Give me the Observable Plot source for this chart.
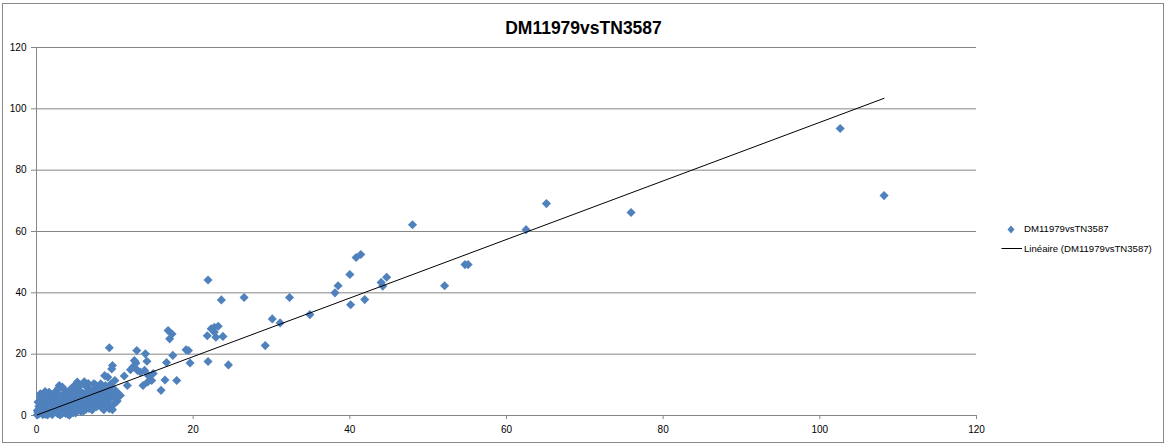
<!DOCTYPE html>
<html>
<head>
<meta charset="utf-8">
<script src="https://cdn.jsdelivr.net/npm/d3@7"></script>
<script src="https://cdn.jsdelivr.net/npm/@observablehq/plot@0.6"></script>
<style>
  html, body { margin: 0; padding: 0; background: #fff; }
  #wrap { position: relative; width: 1167px; height: 447px; overflow: hidden; font-family: "Liberation Sans", Arial, sans-serif; }
  #frame { position: absolute; left: 2px; top: 3px; width: 1160px; height: 438px; border: 1px solid #898989; pointer-events: none; }
  #title { position: absolute; left: 0; top: 17px; width: 1167px; text-align: center; font-weight: bold; font-size: 17.5px; line-height: 22px; color: #000; }
  .leg { position: absolute; left: 1024px; font-size: 9.6px; line-height: 12px; color: #000; white-space: nowrap; }
  #chart { position: absolute; left: 0; top: 0; }
</style>
</head>
<body>
<div id="wrap">
  <div id="chart"></div>
  <div id="title"></div>
  <div id="legend"></div>
  <div id="frame"></div>
</div>
<script>
const chartTitle = "DM11979vsTN3587";
const seriesName = "DM11979vsTN3587";
const trendName = "Linéaire (DM11979vsTN3587)";
const xTicks = [0, 20, 40, 60, 80, 100, 120];
const yTicks = [0, 20, 40, 60, 80, 100, 120];
const trendSlope = 0.955;
const trendIntercept = 0.1;

// Scatter points [x, y]
const outlierPoints = [
  [102.6,93.6],[108.2,71.7],[75.9,66.2],[65.1,69.1],[62.5,60.6],[48.0,62.2],
  [55.1,49.2],[54.7,49.2],[52.1,42.3],[44.7,45.1],[44.0,43.4],[44.2,42.2],
  [41.9,37.8],[41.4,52.5],[40.8,51.5],[40.0,46.0],[40.1,36.1],[38.5,42.3],
  [38.1,40.0],[34.9,32.9],[31.1,30.2],[30.1,31.5],[29.2,22.8],[32.3,38.5],
  [26.5,38.5],[23.6,37.7],[21.9,44.2]
];
const midPoints = [
  [21.8,26.0],[22.3,28.3],[22.7,28.8],[23.2,29.1],[22.9,25.5],[23.8,25.8],[22.7,27.2],
  [21.9,17.6],[24.5,16.5],[16.8,27.7],[17.3,26.6],[17.0,25.0],
  [9.3,22.1],[12.8,21.2],[13.9,20.1],[14.1,17.7],[17.4,19.6],[16.6,17.3],
  [19.1,21.4],[19.4,21.2],[19.6,17.1],
  [9.7,16.3],[9.6,15.2],[12.5,17.9],[12.7,17.1],[12.3,15.8],[12.0,14.9],[12.9,14.7],
  [13.3,14.1],[13.8,14.7],[14.9,13.7],[14.2,10.9],[13.6,9.8],[14.3,13.0],[11.2,12.9],
  [10.0,11.4],[9.1,12.5],[8.7,13.0],[9.5,10.3],[16.4,11.6],[17.9,11.4],[15.9,8.2],
  [11.6,9.8],[10.2,6.2],[9.1,6.0],[14.7,11.4],[10.7,6.5]
];
const clusterPoints = [
  [0.1,0.2],[0.2,1.1],[0.3,0.5],[0.4,2.3],[0.5,3.6],[0.2,4.4],[0.6,5.2],[0.7,1.8],[0.8,0.3],
  [0.5,7.1],[0.5,6.1],[0.3,2.9],[0.9,3.1],[1.0,4.7],[0.6,0.9],[0.1,1.6],[0.4,3.8],[0.8,2.4],
  [1.1,0.4],[1.2,1.5],[1.3,2.7],[1.4,3.9],[1.5,5.6],[1.6,7.6],[1.7,0.8],[1.8,2.1],[1.9,4.3],
  [1.2,6.4],[1.4,0.2],[1.6,3.2],[1.8,5.0],[1.1,7.8],[1.3,4.8],[1.9,6.9],[1.5,1.0],[1.7,2.6],
  [2.0,0.3],[2.1,1.2],[2.2,2.8],[2.3,4.1],[2.4,5.7],[2.5,6.8],[2.6,8.2],[2.7,0.6],[2.8,1.9],
  [2.9,3.5],[2.1,4.9],[2.3,7.4],[2.5,2.2],[2.7,4.6],[2.9,6.1],[2.2,0.9],[2.6,3.0],[2.8,8.9],
  [2.9,9.8],[3.0,0.2],[3.1,1.6],[3.2,2.9],[3.3,4.4],[3.4,5.9],[3.5,7.1],[3.6,8.3],[3.7,0.7],
  [3.8,2.3],[3.9,3.8],[3.1,6.5],[3.3,9.3],[3.5,1.1],[3.7,5.2],[3.9,7.6],[3.2,0.5],[3.6,4.7],
  [3.8,6.2],[4.0,0.4],[4.1,1.4],[4.2,3.0],[4.3,4.6],[4.4,6.0],[4.5,7.7],[4.6,9.1],[4.7,0.9],
  [4.8,2.5],[4.9,4.0],[4.1,5.4],[4.3,8.4],[4.5,2.0],[4.7,5.8],[4.9,7.1],[4.2,0.1],[4.6,3.6],
  [4.8,9.6],[5.0,0.8],[5.1,2.2],[5.2,3.4],[5.3,5.1],[5.4,6.6],[5.5,8.0],[5.6,9.9],[5.7,1.3],
  [5.8,4.2],[5.9,7.3],[5.2,10.9],[5.3,1.7],[5.5,4.9],[5.7,6.2],[5.9,2.9],[5.2,8.7],[5.6,3.7],
  [6.0,1.5],[6.1,3.1],[6.2,4.5],[6.3,6.1],[6.4,7.6],[6.5,9.2],[6.6,10.4],[6.7,2.3],[6.8,5.3],
  [6.9,8.1],[6.1,11.0],[6.3,2.0],[6.5,5.7],[6.7,7.0],[6.9,3.8],[6.2,9.8],[6.6,4.1],
  [7.0,2.6],[7.1,4.3],[7.2,5.9],[7.3,7.4],[7.4,8.8],[7.5,10.1],[7.6,3.3],[7.7,6.5],[7.8,9.4],
  [7.9,4.9],[7.1,1.8],[7.3,10.3],[7.5,6.8],[7.7,2.9],[7.9,8.2],
  [8.0,3.7],[8.1,5.6],[8.2,7.2],[8.3,9.0],[8.4,2.4],[8.5,4.8],[8.6,6.3],[8.7,8.5],[8.8,9.8],
  [8.9,3.1],[8.2,10.3],[8.4,5.1],[8.6,1.9],[8.8,7.0],
  [9.0,4.2],[9.1,6.7],[9.2,8.6],[9.3,2.2],[9.4,5.5],[9.5,9.5],[9.6,7.5],[9.8,3.5],[9.9,6.0],
  [10.1,8.1],[10.3,4.7],[10.5,7.0],[9.7,1.9],[7.6,3.3]
];

const points = [...clusterPoints, ...midPoints, ...outlierPoints].map(([x, y]) => ({x, y}));
const xExtent = d3.extent(points, d => d.x);
const trend = xExtent.map(x => ({x, y: trendIntercept + trendSlope * x}));

const plot = Plot.plot({
  width: 1167,
  height: 447,
  marginLeft: 36,
  marginRight: 191,
  marginTop: 47,
  marginBottom: 32,
  x: {domain: [0, 120]},
  y: {domain: [0, 120]},
  style: {fontFamily: "'Liberation Sans', Arial, sans-serif", fontSize: "10px", color: "#000", background: "transparent", overflow: "visible"},
  marks: [
    Plot.gridY(yTicks, {stroke: "#868686", strokeOpacity: 1, strokeWidth: 1}),
    Plot.ruleX([0], {stroke: "#868686"}),
    Plot.ruleY([0], {stroke: "#868686"}),
    Plot.axisY(yTicks, {tickSize: 5, tickPadding: 5, stroke: "#868686", fill: "#000", label: null}),
    Plot.axisX(xTicks, {tickSize: 4, tickPadding: 6, stroke: "#868686", fill: "#000", label: null}),
    Plot.dot(points, {x: "x", y: "y", symbol: "diamond2", r: 4.1, fill: "#4F81BD", stroke: "none"}),
    Plot.line(trend, {x: "x", y: "y", stroke: "#000", strokeWidth: 1})
  ]
});
document.getElementById("chart").appendChild(plot);
document.getElementById("title").textContent = chartTitle;

// Legend
const leg = document.getElementById("legend");
leg.innerHTML = `
  <svg width="1167" height="447" style="position:absolute;left:0;top:0;pointer-events:none">
    <path d="M1011,225.5 L1014.5,229.5 L1011,233.5 L1007.5,229.5 Z" fill="#4F81BD"/>
    <line x1="1001.5" y1="248.5" x2="1022" y2="248.5" stroke="#000" stroke-width="1"/>
  </svg>
  <div class="leg" style="top:223px"></div>
  <div class="leg" style="top:242.5px"></div>`;
const legDivs = leg.querySelectorAll(".leg");
legDivs[0].textContent = seriesName;
legDivs[1].textContent = trendName;
</script>
</body>
</html>
